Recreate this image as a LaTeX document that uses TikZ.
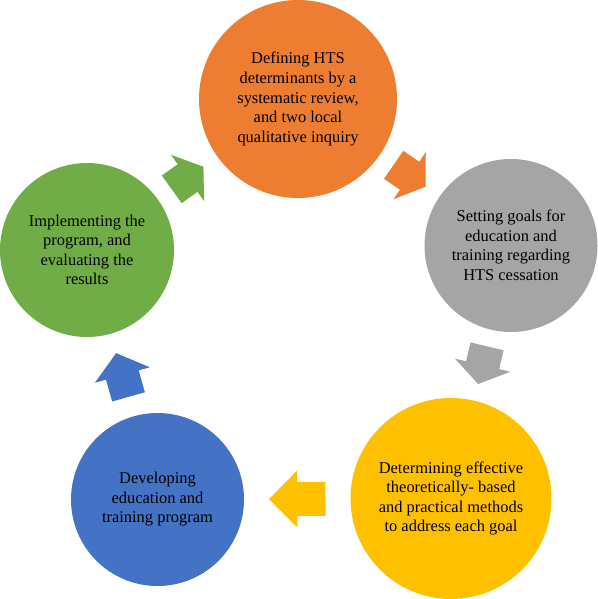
\documentclass[tikz,border=0pt]{standalone}
\usepackage{fontspec}
\setmainfont{Liberation Serif}
\usepackage{xcolor}
\usetikzlibrary{decorations.markings}

\definecolor{hOrange}{HTML}{ED7D31}
\definecolor{hGray}{HTML}{A5A5A5}
\definecolor{hYellow}{HTML}{FFC000}
\definecolor{hBlue}{HTML}{4472C4}
\definecolor{hGreen}{HTML}{70AD47}

\begin{document}
\begin{tikzpicture}[
    x=1bp,y=-1bp,
    stage/.style={circle,inner sep=0pt,outer sep=0pt,align=center,font=\fontsize{16.5}{19.6}\selectfont,minimum size=#1},
    flow/.style={decoration={markings,mark=at position 0.5 with {
        \pgfmathsetmacro\flowlen{0.265*\pgfdecoratedpathlength}
        \fill[#1] (-\flowlen pt,-17bp) -- (0pt,-17bp) -- (0pt,-28.5bp) -- (\flowlen pt,0pt)
          -- (0pt,28.5bp) -- (0pt,17bp) -- (-\flowlen pt,17bp) -- cycle;}},
      postaction={decorate}}
]
\useasboundingbox (0,0) rectangle (598,599);
\node[stage=198bp,fill=hOrange] (define) at (298,99) {Defining HTS\\determinants by a\\systematic review,\\and two local\\qualitative inquiry};
\node[stage=173bp,fill=hGray] (goals) at (511,245.5) {Setting goals for\\education and\\training regarding\\HTS cessation};
\node[stage=201bp,fill=hYellow] (methods) at (451,498.5) {Determining effective\\theoretically- based\\and practical methods\\to address each goal};
\node[stage=173bp,fill=hBlue] (program) at (157.5,499.5) {Developing\\education and\\training program};
\node[stage=174bp,fill=hGreen] (implement) at (87,250) {Implementing the\\program, and\\evaluating the\\results};
\path[flow=hOrange] (define) -- (goals);
\path[flow=hGray] (goals) -- (methods);
\path[flow=hYellow] (methods) -- (program);
\path[flow=hBlue] (program) -- (implement);
\path[flow=hGreen] (implement) -- (define);
\end{tikzpicture}
\end{document}
